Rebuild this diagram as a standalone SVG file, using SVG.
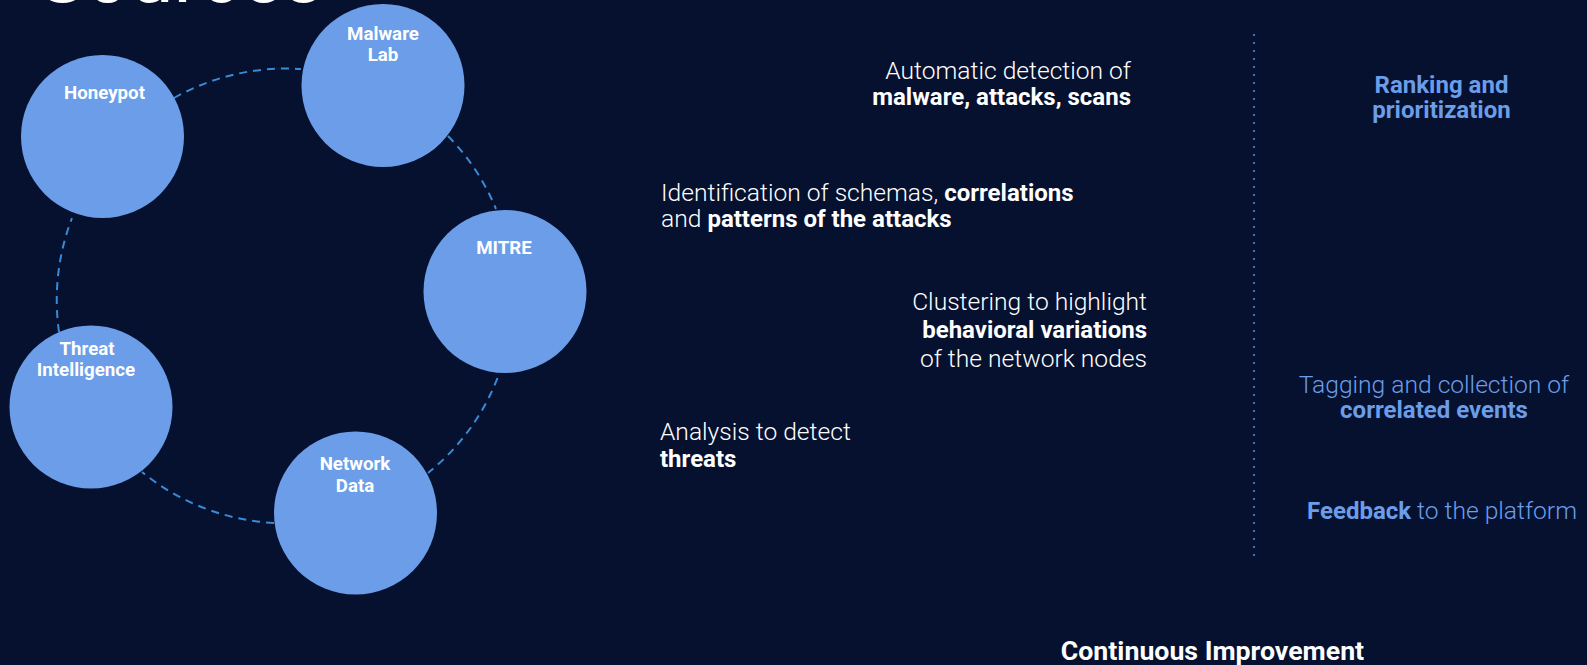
<svg xmlns="http://www.w3.org/2000/svg" width="1587" height="665" viewBox="0 0 1587 665">
  <style>
    .node { fill: #6b9de8; }
    .nlabel { font-family: Roboto, "Liberation Sans", sans-serif; font-weight: 700; font-size: 18.7px; fill: #ffffff; text-anchor: middle; }
    .link { fill: none; stroke: #3a8ad6; stroke-width: 2; stroke-dasharray: 8 6; }
    .body { font-family: Roboto, "Liberation Sans", sans-serif; font-weight: 300; font-size: 24.6px; fill: #ffffff; }
    .b { font-weight: 700; font-size: 24px; }
    .accent { fill: #6b9de8; }
    .title { font-family: Roboto, "Liberation Sans", sans-serif; font-weight: 400; font-size: 79px; fill: #ffffff; }
  </style>
  <rect width="1587" height="665" fill="#061130"/>

  <!-- heading, mostly above the top edge -->
  <text class="title" x="38" y="2">Sources</text>

  <!-- dashed ring joining the sources -->
  <g id="connectors">
    <path class="link" d="M174,98 A228,228 0 0 1 301,69"/>
    <path class="link" d="M448,136 A228,228 0 0 1 496,209"/>
    <path class="link" d="M497.5,378 A228,228 0 0 1 428,473"/>
    <path class="link" d="M274,523 A228,228 0 0 1 142,472"/>
    <path class="link" d="M59,332 A228,228 0 0 1 72,218"/>
  </g>

  <g id="honeypot">
    <circle class="node" cx="102.5" cy="136.5" r="81.5"/>
    <text class="nlabel" x="104.5" y="99">Honeypot</text>
  </g>
  <g id="malware-lab">
    <circle class="node" cx="383" cy="85.5" r="81.5"/>
    <text class="nlabel" x="383" y="40">Malware</text>
    <text class="nlabel" x="383" y="61">Lab</text>
  </g>
  <g id="mitre">
    <circle class="node" cx="505" cy="291.5" r="81.5"/>
    <text class="nlabel" x="504" y="254">MITRE</text>
  </g>
  <g id="threat-intelligence">
    <circle class="node" cx="91" cy="407" r="81.5"/>
    <text class="nlabel" x="87" y="355">Threat</text>
    <text class="nlabel" x="86" y="376">Intelligence</text>
  </g>
  <g id="network-data">
    <circle class="node" cx="355.5" cy="513" r="81.5"/>
    <text class="nlabel" x="355" y="470">Network</text>
    <text class="nlabel" x="355" y="491.5">Data</text>
  </g>

  <!-- analysis steps -->
  <g id="step-detection">
    <text class="body" x="1131" y="78.5" text-anchor="end">Automatic detection of</text>
    <text class="body b" x="1131" y="104.5" text-anchor="end">malware, attacks, scans</text>
  </g>
  <g id="step-patterns">
    <text class="body" x="661" y="201">Identification of schemas, <tspan class="b">correlations</tspan></text>
    <text class="body" x="661" y="227">and <tspan class="b">patterns of the attacks</tspan></text>
  </g>
  <g id="step-clustering">
    <text class="body" x="1147" y="310" text-anchor="end">Clustering to highlight</text>
    <text class="body b" x="1147" y="338" text-anchor="end">behavioral variations</text>
    <text class="body" x="1147" y="367" text-anchor="end">of the network nodes</text>
  </g>
  <g id="step-threats">
    <text class="body" x="660" y="440">Analysis to detect</text>
    <text class="body b" x="660" y="466.5">threats</text>
  </g>

  <!-- divider -->
  <line x1="1254" y1="34" x2="1254" y2="562" stroke="#3474d6" stroke-width="2" stroke-dasharray="2 6"/>

  <g id="ranking">
    <text class="body b accent" x="1441.5" y="93" text-anchor="middle">Ranking and</text>
    <text class="body b accent" x="1441.5" y="118" text-anchor="middle">prioritization</text>
  </g>
  <g id="tagging">
    <text class="body accent" x="1434" y="392.5" text-anchor="middle">Tagging and collection of</text>
    <text class="body b accent" x="1434" y="418" text-anchor="middle">correlated events</text>
  </g>
  <g id="feedback">
    <text class="body accent" x="1442" y="519" text-anchor="middle"><tspan class="b">Feedback</tspan> to the platform</text>
  </g>

  <g id="continuous-improvement">
    <text class="body b" x="1212.5" y="660" text-anchor="middle" style="font-size:26.7px">Continuous Improvement</text>
  </g>
</svg>
